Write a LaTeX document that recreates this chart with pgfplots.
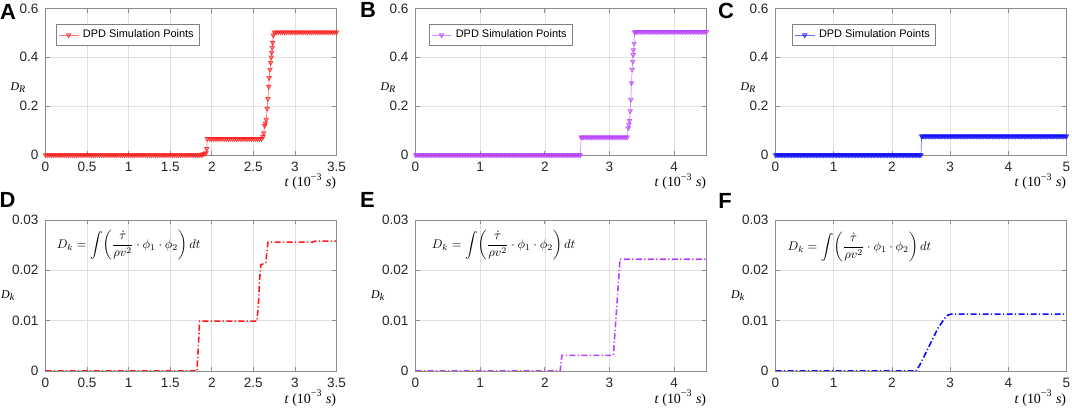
\documentclass[border=0pt]{standalone}
\usepackage{amsmath}
\usepackage{pgfplots}
\pgfplotsset{compat=1.18}
\usepackage{fontspec}
\setmainfont{Liberation Sans}
\newfontfamily\lser{Liberation Serif}
\definecolor{cR}{rgb}{1,0.1,0.1}
\definecolor{cP}{RGB}{185,65,250}
\definecolor{cB}{rgb}{0.05,0.05,1}
\tikzset{fnode/.style={anchor=west, inner sep=0pt, scale=0.63, font=\fontsize{10}{12}\selectfont}}
\newcommand{\tlabel}{{\lser\itshape t\/\upshape\ (10\textsuperscript{−3} \itshape s\/\upshape)}}
\pgfplotsset{
  base/.style={scale only axis, width=145.5bp, anchor=south west,
    grid=major, grid style={black!12,line width=0.3pt},
    axis line style={black!45,line width=0.4pt},
    major tick style={black!45,line width=0.4pt}, major tick length=2.2bp,
    tick align=inside,
    ticklabel style={font=\fontsize{6.8}{7.5}\selectfont, text=black!85},
    /pgf/number format/assume math mode=true, scaled ticks=false,
    every axis x label/.style={at={(rel axis cs:1,0)}, anchor=base east, yshift=-16bp, inner sep=0pt, font=\fontsize{7}{8}\selectfont},
    xlabel={\tlabel},
    legend style={draw=black!50, font=\fontsize{5.5}{6.5}\selectfont, inner xsep=1pt, inner ysep=0.6pt, anchor=north west, cells={anchor=west}},
    legend image code/.code={\draw[mark repeat=2,mark phase=2] plot coordinates {(0cm,0cm) (0.175cm,0cm) (0.35cm,0cm)};},
  },
  top/.style={base, height=73.25bp, ymin=0, ymax=0.6, ytick={0,0.2,0.4,0.6},
    every axis y label/.style={at={(rel axis cs:-0.093,0.46)}, anchor=center, inner sep=0pt, font=\fontsize{6}{7}\selectfont},
    ylabel={\lser\itshape D\textsubscript{R}}},
  bot/.style={base, height=75.5bp, ymin=0, ymax=0.03, ytick={0,0.01,0.02,0.03},
    yticklabel style={/pgf/number format/fixed,/pgf/number format/precision=2},
    every axis y label/.style={at={(rel axis cs:-0.128,0.5)}, anchor=center, inner sep=0pt, font=\fontsize{6}{7}\selectfont},
    ylabel={\lser\itshape D\textsubscript{k}}},
  dpd/.style={#1, line width=0.35pt, draw opacity=0.6, mark=triangle*, mark size=1.25pt, mark options={rotate=180, draw opacity=0.8, fill=#1, fill opacity=0.3, line width=0.4pt, solid}},
  dk/.style={#1, line width=0.8pt, dash pattern=on 3bp off 1.2bp on 0.6bp off 1.2bp},
}
\newcommand{\formula}{$\displaystyle D_k = \int\! \left(\frac{\dot{\tau}}{\rho v^2}\cdot\phi_1\cdot\phi_2\right)dt$}
\begin{document}
\begin{tikzpicture}
\useasboundingbox (0,0) rectangle (536bp,204.5bp);
% ---------- A ----------
\begin{axis}[top, at={(22.75bp,127bp)}, xmin=0, xmax=3.5, xtick={0,0.5,...,3.5},
  legend style={at={(rel axis cs:0.036,0.894)}}]
\addplot[dpd=cR] coordinates {
(0,0)(0.025,0)(0.05,0)(0.075,0)(0.1,0)(0.125,0)(0.15,0)(0.175,0)(0.2,0)(0.225,0)
(0.25,0)(0.275,0)(0.3,0)(0.325,0)(0.35,0)(0.375,0)(0.4,0)(0.425,0)(0.45,0)(0.475,0)
(0.5,0)(0.525,0)(0.55,0)(0.575,0)(0.6,0)(0.625,0)(0.65,0)(0.675,0)(0.7,0)(0.725,0)
(0.75,0)(0.775,0)(0.8,0)(0.825,0)(0.85,0)(0.875,0)(0.9,0)(0.925,0)(0.95,0)(0.975,0)
(1,0)(1.025,0)(1.05,0)(1.075,0)(1.1,0)(1.125,0)(1.15,0)(1.175,0)(1.2,0)(1.225,0)
(1.25,0)(1.275,0)(1.3,0)(1.325,0)(1.35,0)(1.375,0)(1.4,0)(1.425,0)(1.45,0)(1.475,0)
(1.5,0)(1.525,0)(1.55,0)(1.575,0)(1.6,0)(1.625,0)(1.65,0)(1.675,0)(1.7,0)(1.725,0)
(1.75,0)(1.775,0)(1.8,0)(1.825,0)(1.85,0)(1.875,0)
(1.89,0.003)(1.91,0.005)(1.93,0.008)(1.94,0.025)(1.945,0.066)
(1.975,0.066)(2,0.066)(2.025,0.066)(2.05,0.066)(2.075,0.066)(2.1,0.066)(2.125,0.066)(2.15,0.066)(2.175,0.066)(2.2,0.066)
(2.225,0.066)(2.25,0.066)(2.275,0.066)(2.3,0.066)(2.325,0.066)(2.35,0.066)(2.375,0.066)(2.4,0.066)(2.425,0.066)(2.45,0.066)
(2.475,0.066)(2.5,0.066)(2.525,0.066)(2.55,0.066)(2.575,0.066)(2.6,0.066)
(2.615,0.075)(2.625,0.09)(2.635,0.12)(2.645,0.13)(2.655,0.145)(2.665,0.19)(2.675,0.23)(2.685,0.28)(2.69,0.316)(2.7,0.35)
(2.708,0.378)(2.715,0.4)(2.72,0.42)(2.727,0.44)(2.732,0.46)(2.74,0.49)(2.752,0.503)
(2.775,0.503)(2.8,0.503)(2.825,0.503)(2.85,0.503)(2.875,0.503)(2.9,0.503)(2.925,0.503)(2.95,0.503)(2.975,0.503)(3,0.503)
(3.025,0.503)(3.05,0.503)(3.075,0.503)(3.1,0.503)(3.125,0.503)(3.15,0.503)(3.175,0.503)(3.2,0.503)(3.225,0.503)(3.25,0.503)
(3.275,0.503)(3.3,0.503)(3.325,0.503)(3.35,0.503)(3.375,0.503)(3.4,0.503)(3.425,0.503)(3.45,0.503)(3.475,0.503)(3.5,0.503)
};
\addlegendentry{DPD Simulation Points}
\end{axis}
% ---------- B ----------
\begin{axis}[top, at={(207.75bp,127bp)}, xmin=0, xmax=4.5, xtick={0,1,2,3,4},
  legend style={at={(rel axis cs:0.046,0.894)}}]
\addplot[dpd=cP] coordinates {
(0,0)(0.025,0)(0.05,0)(0.075,0)(0.1,0)(0.125,0)(0.15,0)(0.175,0)(0.2,0)(0.225,0)
(0.25,0)(0.275,0)(0.3,0)(0.325,0)(0.35,0)(0.375,0)(0.4,0)(0.425,0)(0.45,0)(0.475,0)
(0.5,0)(0.525,0)(0.55,0)(0.575,0)(0.6,0)(0.625,0)(0.65,0)(0.675,0)(0.7,0)(0.725,0)
(0.75,0)(0.775,0)(0.8,0)(0.825,0)(0.85,0)(0.875,0)(0.9,0)(0.925,0)(0.95,0)(0.975,0)
(1,0)(1.025,0)(1.05,0)(1.075,0)(1.1,0)(1.125,0)(1.15,0)(1.175,0)(1.2,0)(1.225,0)
(1.25,0)(1.275,0)(1.3,0)(1.325,0)(1.35,0)(1.375,0)(1.4,0)(1.425,0)(1.45,0)(1.475,0)
(1.5,0)(1.525,0)(1.55,0)(1.575,0)(1.6,0)(1.625,0)(1.65,0)(1.675,0)(1.7,0)(1.725,0)
(1.75,0)(1.775,0)(1.8,0)(1.825,0)(1.85,0)(1.875,0)(1.9,0)(1.925,0)(1.95,0)(1.975,0)
(2,0)(2.025,0)(2.05,0)(2.075,0)(2.1,0)(2.125,0)(2.15,0)(2.175,0)(2.2,0)(2.225,0)
(2.25,0)(2.275,0)(2.3,0)(2.325,0)(2.35,0)(2.375,0)(2.4,0)(2.425,0)(2.45,0)(2.475,0)
(2.5,0)(2.525,0)(2.55,0)
(2.56,0.073)(2.575,0.073)(2.6,0.073)(2.625,0.073)(2.65,0.073)(2.675,0.073)(2.7,0.073)(2.725,0.073)(2.75,0.073)(2.775,0.073)
(2.8,0.073)(2.825,0.073)(2.85,0.073)(2.875,0.073)(2.9,0.073)(2.925,0.073)(2.95,0.073)(2.975,0.073)(3,0.073)(3.025,0.073)
(3.05,0.073)(3.075,0.073)(3.1,0.073)(3.125,0.073)(3.15,0.073)(3.175,0.073)(3.2,0.073)(3.225,0.073)(3.25,0.073)(3.275,0.073)
(3.29,0.11)(3.3,0.125)(3.31,0.14)(3.32,0.18)(3.33,0.227)(3.34,0.295)(3.35,0.35)(3.36,0.383)(3.365,0.41)(3.37,0.43)
(3.38,0.457)(3.39,0.502)
(3.4,0.505)(3.425,0.505)(3.45,0.505)(3.475,0.505)(3.5,0.505)(3.525,0.505)(3.55,0.505)(3.575,0.505)(3.6,0.505)(3.625,0.505)
(3.65,0.505)(3.675,0.505)(3.7,0.505)(3.725,0.505)(3.75,0.505)(3.775,0.505)(3.8,0.505)(3.825,0.505)(3.85,0.505)(3.875,0.505)
(3.9,0.505)(3.925,0.505)(3.95,0.505)(3.975,0.505)(4,0.505)(4.025,0.505)(4.05,0.505)(4.075,0.505)(4.1,0.505)(4.125,0.505)
(4.15,0.505)(4.175,0.505)(4.2,0.505)(4.225,0.505)(4.25,0.505)(4.275,0.505)(4.3,0.505)(4.325,0.505)(4.35,0.505)(4.375,0.505)
(4.4,0.505)(4.425,0.505)(4.45,0.505)(4.475,0.505)(4.5,0.505)
};
\addlegendentry{DPD Simulation Points}
\end{axis}
% ---------- C ----------
\begin{axis}[top, at={(387.75bp,127bp)}, xmin=0, xmax=5, xtick={0,1,2,3,4,5},
  legend style={at={(rel axis cs:0.057,0.894)}}]
\addplot[dpd=cB] coordinates {
(0,0)(0.025,0)(0.05,0)(0.075,0)(0.1,0)(0.125,0)(0.15,0)(0.175,0)(0.2,0)(0.225,0)
(0.25,0)(0.275,0)(0.3,0)(0.325,0)(0.35,0)(0.375,0)(0.4,0)(0.425,0)(0.45,0)(0.475,0)
(0.5,0)(0.525,0)(0.55,0)(0.575,0)(0.6,0)(0.625,0)(0.65,0)(0.675,0)(0.7,0)(0.725,0)
(0.75,0)(0.775,0)(0.8,0)(0.825,0)(0.85,0)(0.875,0)(0.9,0)(0.925,0)(0.95,0)(0.975,0)
(1,0)(1.025,0)(1.05,0)(1.075,0)(1.1,0)(1.125,0)(1.15,0)(1.175,0)(1.2,0)(1.225,0)
(1.25,0)(1.275,0)(1.3,0)(1.325,0)(1.35,0)(1.375,0)(1.4,0)(1.425,0)(1.45,0)(1.475,0)
(1.5,0)(1.525,0)(1.55,0)(1.575,0)(1.6,0)(1.625,0)(1.65,0)(1.675,0)(1.7,0)(1.725,0)
(1.75,0)(1.775,0)(1.8,0)(1.825,0)(1.85,0)(1.875,0)(1.9,0)(1.925,0)(1.95,0)(1.975,0)
(2,0)(2.025,0)(2.05,0)(2.075,0)(2.1,0)(2.125,0)(2.15,0)(2.175,0)(2.2,0)(2.225,0)
(2.25,0)(2.275,0)(2.3,0)(2.325,0)(2.35,0)(2.375,0)(2.4,0)(2.425,0)(2.45,0)(2.475,0)
(2.5,0)
(2.51,0.077)(2.525,0.077)(2.55,0.077)(2.575,0.077)(2.6,0.077)(2.625,0.077)(2.65,0.077)(2.675,0.077)(2.7,0.077)(2.725,0.077)
(2.75,0.077)(2.775,0.077)(2.8,0.077)(2.825,0.077)(2.85,0.077)(2.875,0.077)(2.9,0.077)(2.925,0.077)(2.95,0.077)(2.975,0.077)
(3,0.077)(3.025,0.077)(3.05,0.077)(3.075,0.077)(3.1,0.077)(3.125,0.077)(3.15,0.077)(3.175,0.077)(3.2,0.077)(3.225,0.077)
(3.25,0.077)(3.275,0.077)(3.3,0.077)(3.325,0.077)(3.35,0.077)(3.375,0.077)(3.4,0.077)(3.425,0.077)(3.45,0.077)(3.475,0.077)
(3.5,0.077)(3.525,0.077)(3.55,0.077)(3.575,0.077)(3.6,0.077)(3.625,0.077)(3.65,0.077)(3.675,0.077)(3.7,0.077)(3.725,0.077)
(3.75,0.077)(3.775,0.077)(3.8,0.077)(3.825,0.077)(3.85,0.077)(3.875,0.077)(3.9,0.077)(3.925,0.077)(3.95,0.077)(3.975,0.077)
(4,0.077)(4.025,0.077)(4.05,0.077)(4.075,0.077)(4.1,0.077)(4.125,0.077)(4.15,0.077)(4.175,0.077)(4.2,0.077)(4.225,0.077)
(4.25,0.077)(4.275,0.077)(4.3,0.077)(4.325,0.077)(4.35,0.077)(4.375,0.077)(4.4,0.077)(4.425,0.077)(4.45,0.077)(4.475,0.077)
(4.5,0.077)(4.525,0.077)(4.55,0.077)(4.575,0.077)(4.6,0.077)(4.625,0.077)(4.65,0.077)(4.675,0.077)(4.7,0.077)(4.725,0.077)
(4.75,0.077)(4.775,0.077)(4.8,0.077)(4.825,0.077)(4.85,0.077)(4.875,0.077)(4.9,0.077)(4.925,0.077)(4.95,0.077)(4.975,0.077)
(5,0.077)
};
\addlegendentry{DPD Simulation Points}
\end{axis}
% ---------- D ----------
\begin{axis}[bot, at={(22.75bp,19bp)}, xmin=0, xmax=3.5, xtick={0,0.5,...,3.5}]
\addplot[dk=cR] coordinates {(0,0)(1.822,0)(1.835,0.004)(1.854,0.0099)(2.543,0.0099)(2.56,0.013)(2.575,0.018)(2.59,0.0211)(2.62,0.0213)(2.65,0.0215)(2.675,0.0256)(3.21,0.0256)(3.24,0.0258)(3.5,0.0258)};
\node[fnode] at (rel axis cs:0.038,0.834) {\formula};
\end{axis}
% ---------- E ----------
\begin{axis}[bot, at={(207.75bp,19bp)}, xmin=0, xmax=4.5, xtick={0,1,2,3,4}]
\addplot[dk=cP] coordinates {(0,0)(2.237,0)(2.263,0.0031)(3.06,0.0031)(3.163,0.0222)(4.5,0.0222)};
\node[fnode] at (rel axis cs:0.055,0.834) {\formula};
\end{axis}
% ---------- F ----------
\begin{axis}[bot, at={(387.75bp,19bp)}, xmin=0, xmax=5, xtick={0,1,2,3,4,5}]
\addplot[dk=cB] coordinates {(0,0)(2.414,0)(2.47,0.001)(2.557,0.003)(2.672,0.0057)(2.787,0.0084)(2.902,0.0104)(2.96,0.0111)(3.02,0.0113)(5,0.0113)};
\node[fnode] at (rel axis cs:0.041,0.82) {\formula};
\end{axis}
% panel letters
\begin{scope}[every node/.style={inner sep=0pt, font=\fontsize{11}{12}\selectfont\bfseries}]
\node at (4bp,198.75bp) {A};
\node at (184bp,199.5bp) {B};
\node at (363bp,199.25bp) {C};
\node at (3.75bp,104.5bp) {D};
\node at (183.75bp,104.5bp) {E};
\node at (362.5bp,104bp) {F};
\end{scope}
\end{tikzpicture}
\end{document}
